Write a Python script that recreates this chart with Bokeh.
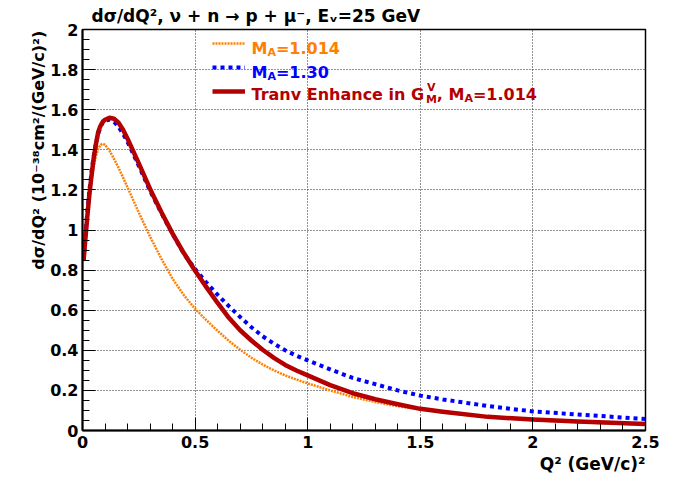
from bokeh.plotting import figure
from bokeh.models import Range1d, FixedTicker, Label, Legend, LegendItem, Title
from bokeh.embed import file_html
from bokeh.resources import INLINE

# ---------------- data ----------------
q2 = [0.005, 0.01, 0.02, 0.03, 0.04, 0.05, 0.06, 0.07, 0.08, 0.09, 0.10, 0.12, 0.14,
      0.16, 0.18, 0.20, 0.25, 0.30, 0.35, 0.40, 0.45, 0.50, 0.55, 0.60, 0.65, 0.70,
      0.75, 0.80, 0.85, 0.90, 0.95, 1.00, 1.10, 1.20, 1.30, 1.40, 1.50, 1.60, 1.80,
      2.00, 2.20, 2.50]

xs_ma1014 = [0.85, 0.92, 1.05, 1.16, 1.25, 1.32, 1.37, 1.405, 1.425, 1.43, 1.425, 1.395, 1.355,
             1.31, 1.262, 1.212, 1.087, 0.967, 0.857, 0.757, 0.675, 0.607, 0.55, 0.497, 0.447, 0.403,
             0.363, 0.329, 0.30, 0.275, 0.254, 0.235, 0.20, 0.167, 0.142, 0.121, 0.105, 0.09, 0.066,
             0.051, 0.041, 0.03]

xs_ma130 = [0.85, 0.93, 1.07, 1.19, 1.29, 1.37, 1.435, 1.48, 1.515, 1.535, 1.545, 1.55, 1.54,
            1.515, 1.48, 1.44, 1.32, 1.195, 1.085, 0.98, 0.882, 0.805, 0.738, 0.677, 0.62, 0.566,
            0.515, 0.47, 0.433, 0.40, 0.373, 0.35, 0.305, 0.262, 0.231, 0.20, 0.174, 0.155, 0.122,
            0.095, 0.08, 0.057]

xs_tte = [0.85, 0.92, 1.05, 1.17, 1.27, 1.36, 1.43, 1.49, 1.52, 1.54, 1.55, 1.56, 1.555,
          1.535, 1.50, 1.455, 1.332, 1.205, 1.09, 0.982, 0.885, 0.797, 0.715, 0.636, 0.562, 0.50,
          0.449, 0.403, 0.362, 0.327, 0.299, 0.275, 0.226, 0.186, 0.156, 0.131, 0.108, 0.093, 0.068,
          0.055, 0.045, 0.032]

x_ticks = [0, 0.5, 1, 1.5, 2, 2.5]
x_tick_labels = ["0", "0.5", "1", "1.5", "2", "2.5"]
y_ticks = [0, 0.2, 0.4, 0.6, 0.8, 1, 1.2, 1.4, 1.6, 1.8, 2]
y_tick_labels = ["0", "0.2", "0.4", "0.6", "0.8", "1", "1.2", "1.4", "1.6", "1.8", "2"]
x_minor = [round(0.1 * i, 2) for i in range(26)]
y_minor = [round(0.05 * i, 2) for i in range(41)]

title_text = "dσ/dQ², ν + n → p + μ⁻, Eᵥ=25 GeV"
ytitle = "dσ/dQ²   (10⁻³⁸cm²/(GeV/c)²)"
xtitle = "Q² (GeV/c)²"

# ---------------- style ----------------
FONT = "DejaVu Sans"
C_OR = "#ff8000"
C_BL = "#0000ff"
C_RD = "#b40000"
W, H = 689, 486
FRAME_L, FRAME_B = 82, 430   # frame left / bottom in canvas pixels

p = figure(width=W, height=H, output_backend="svg", toolbar_location=None,
           x_range=Range1d(0, 2.5), y_range=Range1d(0, 2),
           min_border_left=82, min_border_right=44, min_border_top=28, min_border_bottom=56)
p.background_fill_color = "white"
p.border_fill_color = "white"
p.outline_line_color = "black"
p.outline_line_width = 1.5

p.title.text = title_text
p.title.align = "left"
p.title.offset = 9
p.title.standoff = 7
p.title.text_font = FONT
p.title.text_font_style = "bold"
p.title.text_font_size = "17px"
p.title.text_color = "black"

p.xaxis.ticker = FixedTicker(ticks=x_ticks, minor_ticks=x_minor)
p.yaxis.ticker = FixedTicker(ticks=y_ticks, minor_ticks=y_minor)
p.xaxis.major_label_overrides = dict(zip(x_ticks, x_tick_labels))
p.yaxis.major_label_overrides = dict(zip(y_ticks, y_tick_labels))
for ax in (p.xaxis[0], p.yaxis[0]):
    ax.major_tick_in = 13
    ax.major_tick_out = 0
    ax.minor_tick_in = 7
    ax.minor_tick_out = 0
    ax.axis_line_width = 2
    ax.axis_line_color = "black"
    ax.major_tick_line_color = "black"
    ax.minor_tick_line_color = "black"
    ax.major_label_text_font = FONT
    ax.major_label_text_font_style = "bold"
    ax.major_label_text_font_size = "16px"
    ax.major_label_text_color = "black"
p.xaxis.major_label_standoff = 5
p.yaxis.major_label_standoff = 4

p.xgrid.ticker = FixedTicker(ticks=x_ticks)
p.ygrid.ticker = FixedTicker(ticks=y_ticks)
for g in (p.xgrid[0], p.ygrid[0]):
    g.grid_line_color = "black"
    g.grid_line_dash = "1 2"
    g.grid_line_width = 1
    g.grid_line_alpha = 0.85

# axis titles (ROOT puts them at the far end of the axis)
p.add_layout(Title(text=xtitle, align="right", offset=0, vertical_align="top", standoff=7,
                   text_font=FONT, text_font_style="bold", text_font_size="17px",
                   text_color="black"), "below")
p.add_layout(Title(text=ytitle, align="right", offset=-10, vertical_align="bottom", standoff=0,
                   text_font=FONT, text_font_style="bold", text_font_size="16px",
                   text_color="black"), "left")

# ---------------- curves ----------------
r_or = p.line(q2, xs_ma1014, line_color=C_OR, line_width=2.5, line_dash="2 1")
r_bl = p.line(q2, xs_ma130, line_color=C_BL, line_width=4, line_dash="4 4")
r_rd = p.line(q2, xs_tte, line_color=C_RD, line_width=4.5, line_join="round")

# ---------------- legend (samples) ----------------
legend = Legend(items=[LegendItem(label=" ", renderers=[r_or]),
                       LegendItem(label=" ", renderers=[r_bl]),
                       LegendItem(label=" ", renderers=[r_rd])],
                location=(212 - FRAME_L, FRAME_B - 101.5),
                glyph_width=33, glyph_height=22, label_width=0, label_height=22,
                label_standoff=0, spacing=2, padding=0, margin=0,
                border_line_alpha=0, background_fill_alpha=0,
                label_text_font_size="1px")
p.add_layout(legend)

# ---------------- legend texts ----------------
def lab(X, Y, text, size=16, color="black"):
    p.add_layout(Label(x=X - FRAME_L, y=FRAME_B - Y, x_units="screen", y_units="screen",
                       text=text, text_font=FONT, text_font_style="bold",
                       text_font_size=f"{size}px", text_color=color,
                       text_align="left", text_baseline="alphabetic"))

# DejaVu Sans Bold advance widths (em)
DW = {' ': .348, '(': .457, ')': .457, '+': .838, ',': .380, '-': .415, '.': .380,
      '/': .365, '=': .838, 'A': .774, 'E': .683, 'G': .821, 'M': .995, 'T': .682,
      'V': .774, 'a': .675, 'c': .593, 'e': .678, 'h': .712, 'i': .343, 'n': .712,
      'r': .493, 'v': .652}
for d in "0123456789":
    DW[d] = .696

def tw(text, size):
    return sum(DW.get(ch, .65) for ch in text) * size

def rich(X, Y, pieces, color):
    x = X
    for kind, txt in pieces:
        if kind == "n":
            lab(x, Y, txt, 16, color)
            x += tw(txt, 16)
        elif kind == "sub":
            lab(x, Y + 4, txt, 11, color)
            x += tw(txt, 11)
        elif kind == "subsup":
            sub, sup = txt
            lab(x, Y + 4.5, sub, 11, color)
            lab(x + 1, Y - 7, sup, 11, color)
            x += max(tw(sub, 11), tw(sup, 11) + 1)

rich(251, 47.5, [("n", "M"), ("sub", "A"), ("n", "=1.014")], C_OR)
rich(251, 71.5, [("n", "M"), ("sub", "A"), ("n", "=1.30")], C_BL)
rich(251, 94, [("n", "Tranv Enhance in G"), ("subsup", ("M", "V")), ("n", ", M"),
               ("sub", "A"), ("n", "=1.014")], C_RD)

open("out.html", "w").write(file_html(p, INLINE))
